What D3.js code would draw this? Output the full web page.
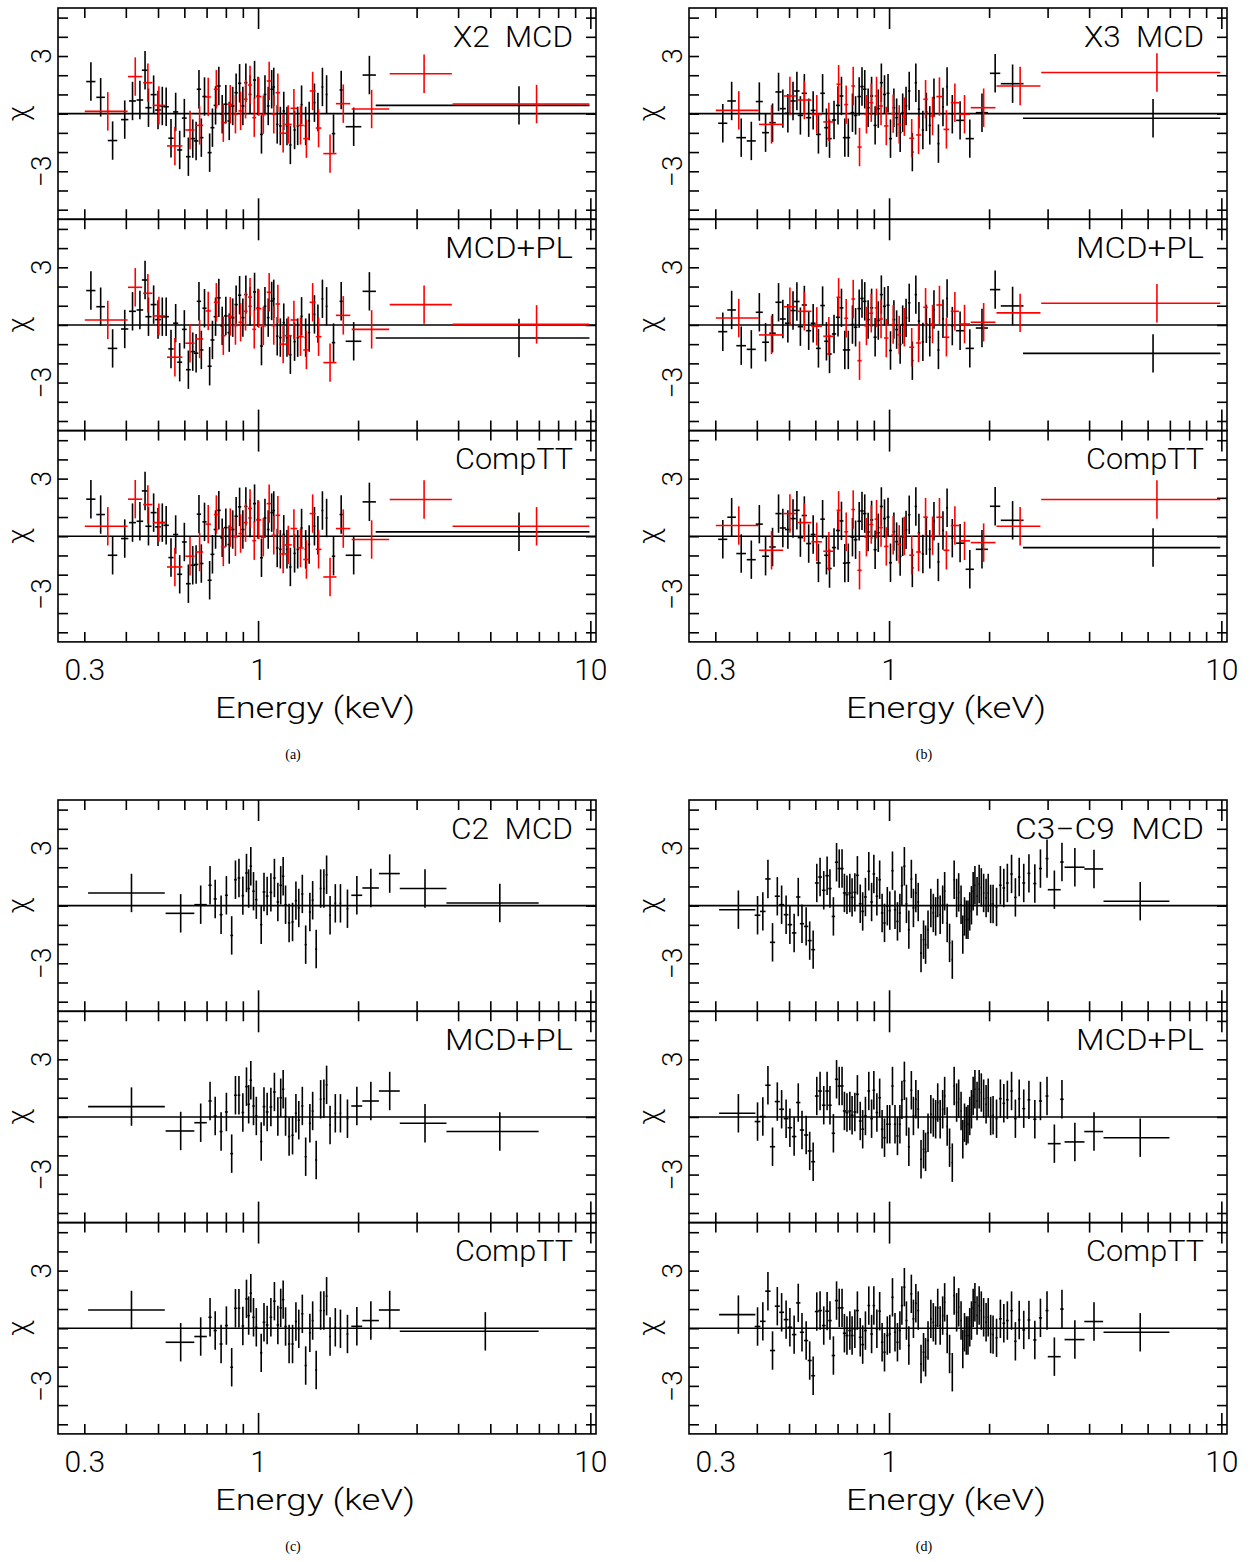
<!DOCTYPE html>
<html>
<head>
<meta charset="utf-8">
<script src="https://cdn.jsdelivr.net/npm/d3@7.9.0/dist/d3.min.js"></script>
<style>
  html, body { margin: 0; padding: 0; background: #fff; }
  svg { display: block; }
  .lab { font-family: Roboto, "DejaVu Sans", sans-serif; font-weight: 300; fill: #000; }
  .cap { font-family: "Liberation Serif", "DejaVu Serif", serif; fill: #000; }
</style>
</head>
<body>
<svg id="chart" width="1255" height="1562"></svg>
<script>
// ---- energy bins [centre keV, half width keV] ----
const aBlackBins = [[0.314,0.01],[0.336,0.01],[0.365,0.012],[0.397,0.01],[0.419,0.01],[0.441,0.01],[0.457,0.01],[0.468,0.01],[0.485,0.01],[0.50,0.01],[0.515,0.01],[0.529,0.01],[0.547,0.01],[0.565,0.01],[0.581,0.01],[0.60,0.01],[0.617,0.01],[0.636,0.01],[0.651,0.01],[0.664,0.01],[0.675,0.01],[0.690,0.01],[0.715,0.01],[0.729,0.01],[0.745,0.01],[0.762,0.01],[0.780,0.01],[0.80,0.01],[0.819,0.01],[0.839,0.01],[0.859,0.01],[0.880,0.01],[0.90,0.01],[0.919,0.01],[0.946,0.01],[0.976,0.01],[1.0,0.01],[1.024,0.01],[1.049,0.01],[1.073,0.01],[1.099,0.01],[1.115,0.01],[1.142,0.01],[1.167,0.01],[1.195,0.01],[1.222,0.01],[1.251,0.01],[1.288,0.01],[1.316,0.01],[1.352,0.01],[1.391,0.01],[1.425,0.01],[1.478,0.01],[1.514,0.01],[1.562,0.01],[1.608,0.01],[1.687,0.02],[1.779,0.02],[1.94,0.105],[2.163,0.1],[6.1,3.84]];
const aRedBins = [[0.353,0.052],[0.427,0.021],[0.466,0.015],[0.503,0.021],[0.562,0.03],[0.624,0.02],[0.667,0.017],[0.708,0.013],[0.749,0.013],[0.786,0.013],[0.825,0.013],[0.855,0.013],[0.886,0.013],[0.917,0.013],[0.946,0.013],[0.974,0.013],[1.005,0.018],[1.037,0.018],[1.080,0.018],[1.115,0.018],[1.147,0.018],[1.19,0.03],[1.233,0.03],[1.282,0.03],[1.342,0.03],[1.398,0.03],[1.46,0.03],[1.521,0.03],[1.647,0.075],[1.805,0.09],[2.197,0.284],[3.16,0.67],[6.89,3.04]];
const bBlackBins = [[0.316,0.01],[0.336,0.01],[0.359,0.012],[0.385,0.012],[0.407,0.01],[0.425,0.01],[0.446,0.01],[0.465,0.01],[0.479,0.01],[0.496,0.01],[0.514,0.01],[0.528,0.01],[0.541,0.01],[0.556,0.01],[0.573,0.01],[0.591,0.01],[0.613,0.01],[0.631,0.01],[0.648,0.01],[0.662,0.01],[0.683,0.01],[0.702,0.01],[0.719,0.01],[0.736,0.01],[0.754,0.01],[0.776,0.01],[0.793,0.01],[0.813,0.01],[0.829,0.01],[0.845,0.01],[0.865,0.01],[0.886,0.01],[0.908,0.01],[0.928,0.01],[0.948,0.01],[0.969,0.01],[0.993,0.01],[1.01,0.01],[1.034,0.01],[1.054,0.01],[1.08,0.01],[1.099,0.01],[1.125,0.01],[1.15,0.01],[1.175,0.01],[1.204,0.01],[1.23,0.01],[1.264,0.01],[1.295,0.01],[1.326,0.01],[1.365,0.01],[1.408,0.01],[1.453,0.01],[1.495,0.01],[1.55,0.01],[1.636,0.045],[1.75,0.05],[1.904,0.08],[2.086,0.075],[2.354,0.185],[6.23,3.7]];
const bRedBins = [[0.353,0.052],[0.443,0.037],[0.503,0.021],[0.556,0.028],[0.606,0.022],[0.659,0.025],[0.705,0.01],[0.743,0.01],[0.78,0.01],[0.815,0.012],[0.855,0.012],[0.884,0.012],[0.917,0.012],[0.946,0.012],[0.981,0.015],[1.029,0.015],[1.073,0.015],[1.112,0.015],[1.17,0.02],[1.227,0.02],[1.288,0.02],[1.352,0.025],[1.418,0.03],[1.488,0.03],[1.578,0.045],[1.687,0.065],[1.926,0.165],[2.48,0.375],[6.4,3.53]];
const cBins = [[0.416,0.108],[0.585,0.058],[0.672,0.029],[0.717,0.008],[0.743,0.008],[0.774,0.008],[0.803,0.008],[0.833,0.008],[0.855,0.008],[0.876,0.008],[0.9,0.008],[0.923,0.008],[0.937,0.008],[0.951,0.008],[0.969,0.008],[0.988,0.008],[1.022,0.008],[1.042,0.01],[1.065,0.01],[1.093,0.01],[1.12,0.01],[1.147,0.01],[1.17,0.01],[1.19,0.01],[1.21,0.01],[1.24,0.01],[1.27,0.01],[1.3,0.01],[1.326,0.01],[1.359,0.01],[1.391,0.01],[1.432,0.01],[1.46,0.01],[1.496,0.01],[1.543,0.01],[1.578,0.01],[1.608,0.01],[1.647,0.01],[1.708,0.01],[1.77,0.01],[1.858,0.012],[1.983,0.075],[2.185,0.125],[2.49,0.18],[3.18,0.51],[5.34,1.65]];
const cLastBinTT = [4.83, 2.16];
const dBins = [[0.352,0.044],[0.402,0.008],[0.417,0.008],[0.432,0.008],[0.446,0.008],[0.461,0.008],[0.475,0.008],[0.49,0.008],[0.503,0.008],[0.518,0.008],[0.533,0.008],[0.547,0.008],[0.563,0.008],[0.577,0.008],[0.591,0.008],[0.606,0.008],[0.62,0.008],[0.636,0.008],[0.651,0.008],[0.664,0.008],[0.68,0.008],[0.695,0.008],[0.708,0.008],[0.722,0.008],[0.734,0.008],[0.747,0.008],[0.762,0.008],[0.774,0.008],[0.789,0.008],[0.803,0.008],[0.819,0.008],[0.833,0.008],[0.849,0.008],[0.869,0.008],[0.886,0.008],[0.9,0.008],[0.919,0.008],[0.937,0.008],[0.953,0.008],[0.969,0.008],[0.988,0.008],[1.005,0.008],[1.024,0.008],[1.042,0.008],[1.06,0.008],[1.078,0.008],[1.093,0.008],[1.112,0.008],[1.128,0.008],[1.147,0.008],[1.167,0.008],[1.184,0.008],[1.204,0.008],[1.224,0.008],[1.248,0.008],[1.27,0.008],[1.288,0.008],[1.31,0.008],[1.336,0.008],[1.359,0.008],[1.381,0.008],[1.401,0.008],[1.425,0.008],[1.45,0.008],[1.47,0.008],[1.496,0.008],[1.521,0.008],[1.55,0.008],[1.57,0.008],[1.597,0.008],[1.62,0.008],[1.647,0.008],[1.667,0.008],[1.687,0.008],[1.708,0.008],[1.728,0.008],[1.749,0.008],[1.77,0.008],[1.791,0.008],[1.813,0.008],[1.84,0.008],[1.867,0.008],[1.895,0.008],[1.926,0.01],[1.959,0.01],[1.988,0.01],[2.022,0.01],[2.056,0.01],[2.106,0.015],[2.163,0.02],[2.215,0.02],[2.27,0.02],[2.337,0.02],[2.4,0.02],[2.464,0.02],[2.543,0.025],[2.636,0.025],[2.746,0.03],[2.855,0.03],[2.988,0.03],[3.144,0.14],[3.314,0.04],[3.624,0.25],[4.138,0.27],[5.7,1.28]];

// ---- residuals chi, one per bin ----
const aBlackMCD = [1.67,0.85,-1.4,-0.31,0.66,0.71,2.26,0.31,0.99,0.19,0.4,0.36,-1.28,0.09,-1.89,-0.23,-2.24,-1.3,-1.42,1.27,-1.25,0.89,-2.03,-0.73,0.43,1.44,-0.03,0.49,-0.38,0.4,1.09,1.58,0.4,1.61,1.0,1.75,0.92,-1.08,1.0,0.4,1.27,1.39,-0.56,-0.64,0.14,-0.64,-1.63,-0.85,-0.64,0.47,-0.64,-0.38,0.57,0.09,1.39,1.0,-1.04,1.23,-0.68,2.01,0.43];
const aBlackPL = [1.79,0.95,-1.22,-0.21,0.71,0.78,2.34,0.43,1.06,0.28,0.43,0.43,-1.25,0.09,-1.94,-0.23,-2.33,-1.39,-1.47,1.23,-1.30,0.87,-2.15,-0.78,0.43,1.41,-0.05,0.47,-0.40,0.38,1.06,1.55,0.38,1.58,0.97,1.72,0.89,-1.10,0.97,0.38,1.25,1.36,-0.59,-0.66,0.12,-0.66,-1.55,-0.87,-0.66,0.45,-0.66,-0.40,0.55,0.07,1.36,0.97,-0.92,1.23,-0.85,1.75,-0.68];
const aBlackTT = [1.93,1.13,-0.99,-0.12,0.71,0.78,2.36,0.52,1.23,0.49,0.71,0.57,-1.11,0.09,-1.98,-0.30,-2.47,-1.51,-1.47,1.15,-1.42,0.75,-2.29,-0.94,0.35,1.35,-0.08,0.45,-0.43,0.35,1.04,1.53,0.35,1.55,0.95,1.70,0.87,-1.12,0.95,0.35,1.23,1.34,-0.61,-0.68,0.10,-0.68,-1.60,-0.89,-0.68,0.43,-0.68,-0.43,0.52,0.05,1.34,0.95,-1.04,1.13,-0.99,1.79,0.23];
const aRedMCD = [0.12,1.93,1.61,0.43,-1.68,-0.85,-0.61,0.87,1.27,-0.47,0.49,-0.03,0.14,0.75,1.49,-0.21,0.89,-0.05,1.7,-0.03,1.09,-1.02,-0.56,0.28,-0.61,-1.3,1.18,-0.75,-2.08,0.52,0.24,2.08,0.5];
const aRedPL = [0.26,1.96,1.65,0.47,-1.68,-0.95,-0.73,0.73,1.18,-0.56,0.45,-0.03,0.14,0.71,1.45,-0.23,0.85,-0.05,1.7,-0.03,1.09,-1.0,-0.56,0.26,-0.61,-1.3,1.18,-0.61,-1.96,0.5,-0.23,1.06,0.03];
const aRedTT = [0.52,1.93,1.65,0.71,-1.6,-1.04,-0.82,0.63,1.13,-0.56,0.45,-0.03,0.14,0.71,1.45,-0.23,0.85,-0.05,1.7,0.05,1.09,-0.92,-0.45,0.4,-0.61,-1.21,1.18,-0.68,-2.12,0.4,-0.17,1.91,0.52];

const bBlackMCD = [-0.5,0.66,-1.25,-1.42,0.63,-0.99,-0.47,1.13,0.26,0.02,0.66,1.18,-0.09,1.06,-0.21,0.17,-1.08,1.06,-0.73,-1.3,-0.33,0.43,0.92,-1.25,-1.25,0.05,-0.09,0.89,1.41,1.27,0.31,0.92,-0.61,0.26,1.61,1.0,1.06,-1.3,0.31,-0.21,-0.99,0.05,0.4,1.18,-2.0,1.61,0.23,-0.85,0.09,-0.61,0.83,-1.56,0.35,1.41,-0.03,-0.35,-1.3,0.05,2.1,1.56,-0.24];
const bBlackPL = [-0.35,0.78,-1.08,-1.27,0.66,-0.9,-0.43,1.18,0.31,0.09,0.75,1.22,-0.09,1.04,-0.30,0.09,-1.22,1.01,-0.85,-1.51,-0.47,0.40,0.89,-1.30,-1.30,0.02,-0.12,0.85,1.38,1.23,0.28,0.89,-0.64,0.23,1.58,0.97,1.03,-1.33,0.28,-0.24,-1.02,0.02,0.37,1.15,-1.86,1.58,0.20,-0.88,0.06,-0.64,0.80,-1.30,0.32,1.38,-0.06,-0.30,-1.22,-0.16,1.84,0.99,-1.48];
const bBlackTT = [-0.16,0.99,-0.9,-1.22,0.63,-1.04,-0.56,1.18,0.43,0.35,0.92,1.35,-0.07,1.08,-0.38,0.09,-1.39,0.89,-0.99,-1.68,-0.59,0.30,0.80,-1.40,-1.38,-0.05,-0.18,0.78,1.32,1.18,0.22,0.85,-0.70,0.18,1.55,0.92,1.00,-1.38,0.24,-0.28,-1.05,-0.03,0.33,1.12,-1.65,1.55,0.17,-0.92,0.03,-0.68,0.78,-1.34,0.30,1.48,-0.10,-0.36,-1.72,-0.68,1.56,0.83,-0.59];
const bRedMCD = [0.17,-0.56,0.92,0.71,-0.03,-0.43,1.53,0.47,1.44,-1.74,-0.03,0.57,0.92,0.4,-0.64,0.0,-0.56,-0.16,-1.28,-1.11,0.75,-0.12,0.89,-0.82,0.57,-0.03,0.31,1.44,2.14];
const bRedPL = [0.36,-0.52,0.95,0.71,-0.07,-0.59,1.44,0.35,1.35,-1.86,-0.05,0.61,0.89,0.31,-0.68,0.02,-0.52,-0.12,-1.16,-0.94,0.92,0.05,1.04,-0.64,0.71,0.05,0.14,0.63,1.13];
const bRedTT = [0.56,-0.73,1.18,0.71,-0.29,-0.78,1.35,0.23,1.39,-1.77,-0.05,0.61,0.89,0.45,-0.53,0.05,-0.42,0.02,-0.99,-0.82,0.99,0.03,0.99,-0.73,0.56,-0.24,-0.33,0.52,1.91];

const cMCD = [0.66,-0.4,0.05,1.06,0.35,-0.47,0.54,-1.55,1.35,1.44,0.52,1.7,0.89,2.05,0.75,0.31,-0.99,0.71,0.5,0.69,1.44,0.19,1.06,1.53,0.05,-0.9,-0.85,0.26,-0.12,0.61,-2.03,-0.33,0.28,-2.26,0.89,0.89,1.61,-0.5,0.12,0.12,-0.16,0.54,0.92,1.67,0.89,0.14];
const cPL = [0.54,-0.73,-0.3,0.83,0.05,-0.76,0.26,-1.91,1.13,1.13,0.23,1.58,0.66,1.91,0.57,0.05,-1.28,0.54,0.26,0.52,1.3,0.02,1.0,1.44,0.02,-1.02,-0.95,0.19,-0.17,0.57,-2.07,-0.33,0.31,-2.24,0.92,0.95,1.67,-0.42,0.19,0.19,-0.09,0.57,0.83,1.35,-0.33,-0.76];
const cTT = [0.95,-0.73,-0.43,0.57,-0.12,-0.82,0.14,-2.03,1.04,1.04,0.12,1.53,0.66,1.82,0.57,0.05,-1.28,0.31,0.17,0.57,1.41,0.17,1.06,1.49,0.09,-0.82,-0.82,0.35,-0.03,0.75,-1.94,-0.24,0.4,-2.17,0.92,0.92,1.67,-0.43,0.05,-0.03,-0.3,0.1,0.4,0.95,-0.16];

const dMCD = [-0.21,-0.5,-0.3,1.39,-1.91,0.49,0.05,-0.47,-0.99,-1.42,0.45,-0.94,-1.08,-1.82,-2.29,1.18,1.49,0.8,1.56,0.89,-0.56,2.26,1.93,1.93,0.66,0.57,0.66,0.43,0.69,1.58,0.1,-0.3,0.45,1.79,0.19,1.65,0.49,1.35,-0.38,-0.9,-0.03,-0.26,1.82,-0.21,-0.82,-0.38,1.04,2.05,0.09,-1.25,1.39,-0.12,0.66,0.19,-2.47,-1.77,-2.03,-1.25,-0.12,-0.38,-0.56,0.4,-0.47,0.05,0.75,-0.9,-1.94,-2.81,1.35,0.4,0.69,0.05,-1.51,-0.56,-0.73,-0.73,-0.3,0.02,0.75,1.06,0.49,1.13,0.95,0.66,0.4,0.66,0.09,0.09,-0.07,1.06,0.92,1.18,1.65,0.43,1.49,1.18,1.68,1.15,1.93,2.45,0.83,2.27,2.0,1.91,0.23];
const dPL = [0.19,-0.24,0.02,1.65,-1.55,0.8,0.4,-0.09,-0.56,-1.02,0.75,-0.68,-0.94,-1.77,-2.33,1.09,1.35,0.61,1.35,0.61,-0.85,1.96,1.61,1.61,0.31,0.23,0.31,0.09,0.26,1.18,-0.21,-0.64,0.05,1.35,-0.09,1.39,0.23,1.0,-0.64,-1.08,-0.38,-0.38,1.61,-0.38,-0.99,-0.38,0.89,1.88,0.02,-1.55,1.39,0.05,0.92,0.4,-2.2,-1.68,-1.82,-0.82,0.14,-0.03,-0.12,0.75,-0.12,0.4,1.09,-0.5,-1.6,-2.38,1.61,0.75,0.95,0.31,-1.16,-0.3,-0.47,-0.38,0.05,0.4,1.09,1.44,0.83,1.44,1.27,0.95,0.66,1.0,0.05,0.09,-0.09,0.95,0.71,0.89,1.35,-0.09,0.95,0.43,0.89,-0.12,0.83,1.09,-1.39,0.92,-1.3,-0.76,-1.08];
const dTT = [0.71,0.09,0.36,1.93,-1.16,1.15,0.83,0.45,0.05,-0.33,1.32,-0.21,-0.64,-1.68,-2.47,0.87,0.92,0.14,0.89,0.4,-1.42,1.44,1.06,1.06,-0.26,-0.38,-0.12,-0.38,-0.03,0.92,-0.47,-0.85,-0.12,1.18,-0.3,1.18,-0.03,0.89,-0.73,-1.25,-0.38,-0.3,1.61,-0.21,-0.73,-0.12,1.18,2.14,0.4,-0.9,1.79,0.49,1.3,0.92,-1.86,-1.25,-1.51,-0.64,0.49,0.31,0.14,1.06,0.14,0.66,1.35,-0.3,-1.34,-2.29,1.7,0.83,1.09,0.4,-1.08,-0.21,-0.38,-0.38,0.05,0.4,1.06,1.35,0.66,1.18,0.92,0.57,0.31,0.57,-0.3,-0.33,-0.5,0.49,0.26,0.4,0.92,-0.68,0.43,-0.09,0.43,-0.61,0.54,0.92,-1.48,1.0,-0.59,0.35,-0.21];

// ---- axis / labels ----
const energyDomain = [0.25, 10.4];
const chiDomain = [-5.5, 5.5];
const chiTicks = [-5, -4, -3, -2, -1, 0, 1, 2, 3, 4, 5];
const chiLabels = [3, -3];
const energyLabels = [0.3, 1, 10];

function zip(bins, chi) {
  if (bins.length !== chi.length) throw new Error('length mismatch ' + bins.length + ' vs ' + chi.length);
  return bins.map((b, i) => ({ e: b[0], hw: b[1], chi: chi[i] }));
}

// titles: [text, rendered width]
const panels = [
  { tag: '(a)', x: 58, y: 8, titles: [['X2  MCD', 120], ['MCD+PL', 128], ['CompTT', 118]],
    rows: [
      [{ c: '#000', d: zip(aBlackBins, aBlackMCD) }, { c: '#f00', d: zip(aRedBins, aRedMCD) }],
      [{ c: '#000', d: zip(aBlackBins, aBlackPL) }, { c: '#f00', d: zip(aRedBins, aRedPL) }],
      [{ c: '#000', d: zip(aBlackBins, aBlackTT) }, { c: '#f00', d: zip(aRedBins, aRedTT) }],
    ] },
  { tag: '(b)', x: 689, y: 8, titles: [['X3  MCD', 120], ['MCD+PL', 128], ['CompTT', 118]],
    rows: [
      [{ c: '#000', d: zip(bBlackBins, bBlackMCD) }, { c: '#f00', d: zip(bRedBins, bRedMCD) }],
      [{ c: '#000', d: zip(bBlackBins, bBlackPL) }, { c: '#f00', d: zip(bRedBins, bRedPL) }],
      [{ c: '#000', d: zip(bBlackBins, bBlackTT) }, { c: '#f00', d: zip(bRedBins, bRedTT) }],
    ] },
  { tag: '(c)', x: 58, y: 800, titles: [['C2  MCD', 122], ['MCD+PL', 128], ['CompTT', 118]],
    rows: [
      [{ c: '#000', d: zip(cBins, cMCD) }],
      [{ c: '#000', d: zip(cBins, cPL) }],
      [{ c: '#000', d: zip(cBins.slice(0, 44).concat([cLastBinTT]), cTT) }],
    ] },
  { tag: '(d)', x: 689, y: 800, titles: [['C3\u2212C9  MCD', 189], ['MCD+PL', 128], ['CompTT', 118]],
    rows: [
      [{ c: '#000', d: zip(dBins, dMCD) }],
      [{ c: '#000', d: zip(dBins, dPL) }],
      [{ c: '#000', d: zip(dBins, dTT) }],
    ] },
];

const W = 538, H = 211.3, LW = 1.6;
const x = d3.scaleLog().domain(energyDomain).range([0, W]);
const y = d3.scaleLinear().domain(chiDomain).range([H, 0]);
const svg = d3.select('#chart');

const allTicks = x.ticks();
const majorTicks = allTicks.filter(v => Math.abs(Math.log10(v) - Math.round(Math.log10(v))) < 1e-9);
const minorTicks = allTicks.filter(v => !majorTicks.includes(v));

function styleAxis(g) {
  g.select('.domain').remove();
  g.selectAll('line').attr('stroke', '#000').attr('stroke-width', LW);
}

function drawRow(g, series, title) {
  // x ticks top & bottom, inward
  g.append('g').call(d3.axisTop(x).tickValues(minorTicks).tickSize(-10).tickFormat('')).call(styleAxis);
  g.append('g').call(d3.axisTop(x).tickValues(majorTicks).tickSize(-21).tickFormat('')).call(styleAxis);
  g.append('g').attr('transform', `translate(0,${H})`)
    .call(d3.axisBottom(x).tickValues(minorTicks).tickSize(-10).tickFormat('')).call(styleAxis);
  g.append('g').attr('transform', `translate(0,${H})`)
    .call(d3.axisBottom(x).tickValues(majorTicks).tickSize(-21).tickFormat('')).call(styleAxis);
  // y ticks left & right, inward
  g.append('g').call(d3.axisLeft(y).tickValues(chiTicks).tickSize(-10).tickFormat('')).call(styleAxis);
  g.append('g').attr('transform', `translate(${W},0)`)
    .call(d3.axisRight(y).tickValues(chiTicks).tickSize(-10).tickFormat('')).call(styleAxis);

  // zero line
  g.append('line').attr('x1', 0).attr('x2', W).attr('y1', y(0)).attr('y2', y(0))
    .attr('stroke', '#000').attr('stroke-width', LW);

  for (const s of series) {
    const pts = g.append('g').attr('stroke', s.c).attr('stroke-width', LW).attr('fill', 'none');
    pts.selectAll('line.v').data(s.d).join('line').attr('class', 'v')
      .attr('x1', d => x(d.e)).attr('x2', d => x(d.e))
      .attr('y1', d => y(d.chi - 1)).attr('y2', d => y(d.chi + 1));
    pts.selectAll('line.h').data(s.d).join('line').attr('class', 'h')
      .attr('x1', d => x(Math.max(d.e - d.hw, energyDomain[0]))).attr('x2', d => x(Math.min(d.e + d.hw, energyDomain[1])))
      .attr('y1', d => y(d.chi)).attr('y2', d => y(d.chi));
  }

  g.append('rect').attr('width', W).attr('height', H)
    .attr('fill', 'none').attr('stroke', '#000').attr('stroke-width', LW);

  g.append('text').attr('class', 'lab')
    .attr('x', W - 23).attr('y', 38.7)
    .attr('text-anchor', 'end').attr('font-size', 29)
    .attr('textLength', title[1]).attr('lengthAdjust', 'spacingAndGlyphs')
    .style('white-space', 'pre')
    .text(title[0]);

  // y labels (rotated)
  for (const v of chiLabels) {
    g.append('text').attr('class', 'lab')
      .attr('transform', `translate(-7,${y(v)}) rotate(-90)`)
      .attr('text-anchor', 'middle').attr('font-size', 28)
      .text(v < 0 ? '\u2212' + Math.abs(v) : String(v));
  }
  g.append('text').attr('class', 'lab')
    .attr('transform', `translate(-30,${y(0)}) rotate(-90)`)
    .attr('text-anchor', 'middle').attr('font-size', 29)
    .text('\u03c7');
}

for (const p of panels) {
  const pg = svg.append('g').attr('transform', `translate(${p.x},${p.y})`);
  p.rows.forEach((series, i) => {
    const g = pg.append('g').attr('transform', `translate(0,${i * H})`);
    drawRow(g, series, p.titles[i]);
  });
  const bottom = 3 * H;
  const ax = pg.append('g').attr('transform', `translate(0,${bottom})`)
    .call(d3.axisBottom(x).tickValues(energyLabels).tickSize(0).tickFormat(d => String(d)));
  ax.select('.domain').remove();
  ax.selectAll('text').attr('class', 'lab').attr('font-size', 30).attr('y', 38).attr('dy', 0)
    .attr('fill', '#000');
  pg.append('text').attr('class', 'lab')
    .attr('x', 257).attr('y', bottom + 76)
    .attr('text-anchor', 'middle').attr('font-size', 30)
    .attr('textLength', 200).attr('lengthAdjust', 'spacingAndGlyphs')
    .text('Energy (keV)');
  pg.append('text').attr('class', 'cap')
    .attr('x', 235).attr('y', bottom + 117)
    .attr('text-anchor', 'middle').attr('font-size', 14)
    .text(p.tag);
}
</script>
</body>
</html>
